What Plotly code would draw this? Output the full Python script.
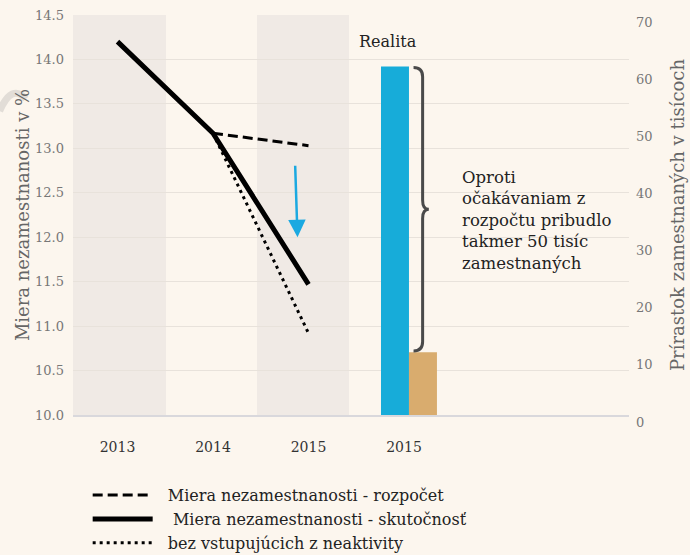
import plotly.graph_objects as go

# ---- data ----
x_labels = ["2013", "2014", "2015", "2015"]
x_pos = [0, 1, 2, 3]
line_x = [0, 1, 2]
skutocnost = [14.2, 13.17, 11.47]
rozpocet_x = [1, 2]
rozpocet = [13.17, 13.03]
neaktivita_x = [1, 2]
neaktivita = [13.17, 10.92]
realita_value = [61]
rozpocet_value = [11]
left_ticks = [10.0, 10.5, 11.0, 11.5, 12.0, 12.5, 13.0, 13.5, 14.0, 14.5]
right_ticks = [0, 10, 20, 30, 40, 50, 60, 70]

FONT = "DejaVu Serif"
BG = "#FCF6EE"
BAND = "#F0EAE5"
GRID = "#E8E2DB"
TICKC = "#777777"
TITLEC = "#666666"
NB = "\u00a0"

fig = go.Figure()

fig.add_trace(go.Scatter(x=rozpocet_x, y=rozpocet, mode="lines",
                         line=dict(color="black", width=3, dash="10px,5px"),
                         name=NB * 2 + "Miera nezamestnanosti - rozpočet"))
fig.add_trace(go.Scatter(x=line_x, y=skutocnost, mode="lines",
                         line=dict(color="black", width=5),
                         name=NB * 3 + "Miera nezamestnanosti - skutočnosť"))
fig.add_trace(go.Scatter(x=neaktivita_x, y=neaktivita, mode="lines",
                         line=dict(color="black", width=3, dash="3px,4px"),
                         name=NB * 2 + "bez vstupujúcich z neaktivity"))

fig.add_trace(go.Bar(x=[3], y=realita_value, yaxis="y2", width=0.293, offset=-0.241,
                     marker=dict(color="#17ACD9", line=dict(width=0)), showlegend=False))
fig.add_trace(go.Bar(x=[3], y=rozpocet_value, yaxis="y2", width=0.293, offset=0.052,
                     marker=dict(color="#D9AC6E", line=dict(width=0)), showlegend=False))

shapes = []
# background bands
for x0, x1 in [(-0.466, 0.508), (1.461, 2.424)]:
    shapes.append(dict(type="rect", xref="x", yref="paper", x0=x0, x1=x1, y0=0, y1=1,
                       fillcolor=BAND, line=dict(width=0), layer="below"))

# curly brace between the two bars' tops
top = realita_value[0] - 0.2
bot = rozpocet_value[0] + 0.2
mid = (top + bot) / 2
bx0, bx1, bx2 = 3.10, 3.195, 3.26
c = 1.6
brace = (f"M{bx0},{top} Q{bx1},{top} {bx1},{top - c} "
         f"L{bx1},{mid + c} Q{bx1},{mid} {bx2},{mid} "
         f"Q{bx1},{mid} {bx1},{mid - c} "
         f"L{bx1},{bot + c} Q{bx1},{bot} {bx0},{bot}")
shapes.append(dict(type="path", xref="x", yref="y2", path=brace,
                   line=dict(color="#4A4A4A", width=3)))
# faint watermark arc at the left
shapes.append(dict(type="path", xref="paper", yref="paper",
                   path="M-0.132,0.76 Q-0.11,0.83 -0.085,0.79",
                   line=dict(color="#E2DDD7", width=7), layer="below"))

annotations = [
    dict(x=2.83, y=65.3, xref="x", yref="y2", text="Realita", showarrow=False,
         font=dict(family=FONT, size=16, color="#222222")),
    dict(x=3.585, y=43.6, xref="x", yref="y2", xanchor="left", yanchor="top", align="left",
         text="Oproti<br>očakávaniam z<br>rozpočtu pribudlo<br>takmer 50 tisíc<br>zamestnaných",
         showarrow=False, font=dict(family=FONT, size=16.5, color="#222222")),
    dict(x=1.885, y=12.0, ax=1.86, ay=12.82, xref="x", yref="y", axref="x", ayref="y",
         text="", showarrow=True, arrowhead=2, arrowsize=1.4, arrowwidth=2.5,
         arrowcolor="#1BA9E1"),
]

fig.update_layout(
    width=690, height=555,
    margin=dict(l=73, r=61, t=15, b=140, autoexpand=False),
    paper_bgcolor=BG, plot_bgcolor=BG,
    font=dict(family=FONT, color="#222222"),
    barmode="overlay",
    shapes=shapes, annotations=annotations,
    legend=dict(x=0.0264, y=-0.158, xanchor="left", yanchor="top",
                font=dict(family=FONT, size=16, color="#222222"),
                bgcolor="rgba(0,0,0,0)", itemwidth=60, tracegroupgap=0),
    xaxis=dict(range=[-0.466, 5.356], tickmode="array", tickvals=x_pos, ticktext=x_labels,
               showgrid=False, zeroline=False, showline=True, linecolor="#D9D8DC", linewidth=2,
               ticks="", ticklabelstandoff=18, automargin=False,
               tickfont=dict(family=FONT, size=14, color="#333333")),
    yaxis=dict(range=[10.0, 14.5], tickmode="array", tickvals=left_ticks,
               ticktext=[f"{v:.1f}" for v in left_ticks],
               showgrid=True, gridcolor=GRID, gridwidth=1, zeroline=False, showline=False,
               ticks="", ticklabelstandoff=8, automargin=False,
               tickfont=dict(family=FONT, size=13, color=TICKC),
               title=dict(text="Miera nezamestnanosti v %", standoff=0,
                          font=dict(family=FONT, size=18, color=TITLEC))),
    yaxis2=dict(range=[0, 70], overlaying="y", side="right", tickmode="array",
                tickvals=right_ticks, showgrid=False, zeroline=False, showline=False,
                ticks="", ticklabelstandoff=6, ticklabelshift=7, automargin=False,
                tickfont=dict(family=FONT, size=13, color=TICKC),
                title=dict(text="Prírastok zamestnaných v tisícoch", standoff=19,
                           font=dict(family=FONT, size=18, color=TITLEC))),
)

fig.write_html("out.html", post_script="document.body.style.margin='0';",
               config={"displayModeBar": False})
